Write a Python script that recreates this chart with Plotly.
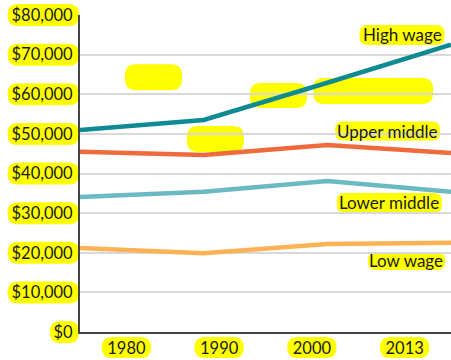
import plotly.graph_objects as go

# ---------------- data ----------------
years = ["1980", "1990", "2000", "2013"]
series_names = ["High wage", "Upper middle", "Lower middle", "Low wage"]
high_wage = [51000, 53500, 62900, 72500]
upper_middle = [45500, 44700, 47200, 45200]
lower_middle = [34100, 35400, 38100, 35400]
low_wage = [21200, 19900, 22200, 22500]
y_tick_values = [0, 10000, 20000, 30000, 40000, 50000, 60000, 70000, 80000]
y_tick_labels = ["$0", "$10,000", "$20,000", "$30,000", "$40,000",
                 "$50,000", "$60,000", "$70,000", "$80,000"]

# ---------------- style ----------------
colors = ["#0e8a92", "#ef6b3b", "#6bb9c2", "#fcb255"]
YELLOW = "#ffff00"
FONT = "Lato"
TICK_SIZE = 16.5
TEXT_COLOR = "#1a1a1a"
YMAX = 80000

fig = go.Figure()
n = len(years)
# invisible helper trace so the tick axis is populated
fig.add_trace(go.Scatter(x=list(range(n)), y=[None] * n, mode="lines",
                         xaxis="x", yaxis="y", showlegend=False,
                         hoverinfo="skip"))
for name, vals, col in zip(series_names,
                           [high_wage, upper_middle, lower_middle, low_wage],
                           colors):
    fig.add_trace(go.Scatter(x=years, y=vals, mode="lines", name=name,
                             xaxis="x2", yaxis="y",
                             line=dict(color=col, width=4.5),
                             hoverinfo="skip"))


def pill(cx, cy, w, h, r=None):
    if r is None:
        r = min(h / 2.0, 10)
    x0, x1 = cx - w / 2.0, cx + w / 2.0
    y0, y1 = cy - h / 2.0, cy + h / 2.0
    return (f"M{x0 + r},{y0} L{x1 - r},{y0} Q{x1},{y0} {x1},{y0 + r} "
            f"L{x1},{y1 - r} Q{x1},{y1} {x1 - r},{y1} L{x0 + r},{y1} "
            f"Q{x0},{y1} {x0},{y1 - r} L{x0},{y0 + r} Q{x0},{y0} {x0 + r},{y0} Z")


def highlight(ax, ay, cx, cy, w, h, r=None):
    return dict(type="path", xref="paper", yref="paper",
                xsizemode="pixel", ysizemode="pixel",
                xanchor=ax, yanchor=ay, path=pill(cx, cy, w, h, r),
                fillcolor=YELLOW, line=dict(width=0), layer="below")


def text_width(s, size=TICK_SIZE):
    w = 0.0
    for ch in s:
        w += 0.24 * size if ch in ",." else 0.58 * size
    return w


shapes = []
# y tick label highlights
for v, lab in zip(y_tick_values, y_tick_labels):
    w = text_width(lab) + 10
    shapes.append(highlight(0, v / YMAX, -1 - w / 2.0, 0, w, 22))
# x tick label highlights
for i, lab in enumerate(years):
    w = text_width(lab) + 11
    shapes.append(highlight((i + 0.5) / n, 0, 0, -15.5, w, 21))

# decorative highlight blobs inside the plot (paper x, paper y, width, height)
blobs = [(0.198, 0.804, 57, 26), (0.365, 0.609, 57, 26),
         (0.535, 0.746, 57, 25), (0.790, 0.760, 120, 26)]
for bx, by, bw, bh in blobs:
    shapes.append(highlight(bx, by, 0, 0, bw, bh, 11))

# series labels
label_pos = [(0.868, 0.937, 85, 20), (0.829, 0.634, 105, 19),
             (0.834, 0.407, 105, 20), (0.880, 0.224, 77, 18)]
annotations = []
for name, (lx, ly, lw, lh) in zip(series_names, label_pos):
    shapes.append(highlight(lx, ly, 0, 0, lw, lh, 8))
    annotations.append(dict(text=name, x=lx, y=ly, xref="paper", yref="paper",
                            showarrow=False, xanchor="center", yanchor="middle",
                            font=dict(family=FONT, size=17, color=TEXT_COLOR)))

fig.update_layout(
    width=451, height=360,
    margin=dict(l=80, r=0, t=15, b=28),
    paper_bgcolor="white", plot_bgcolor="white",
    showlegend=False,
    font=dict(family=FONT, size=TICK_SIZE, color=TEXT_COLOR),
    xaxis=dict(type="linear", range=[-0.5, n - 0.5],
               tickvals=list(range(n)), ticktext=years,
               showgrid=False, zeroline=False, ticks="",
               ticklabelstandoff=0,
               showline=True, linecolor="#444444", linewidth=2,
               tickfont=dict(family=FONT, size=TICK_SIZE, color=TEXT_COLOR)),
    xaxis2=dict(type="category", overlaying="x", anchor="y",
                range=[0, n - 1], visible=False),
    yaxis=dict(range=[0, YMAX], tickvals=y_tick_values, ticktext=y_tick_labels,
               showgrid=True, gridcolor="#d9d9d9", gridwidth=1.5,
               zeroline=False, ticks="", ticklabelstandoff=2,
               showline=True, linecolor="#444444", linewidth=2,
               tickfont=dict(family=FONT, size=TICK_SIZE, color=TEXT_COLOR)),
    shapes=shapes,
    annotations=annotations,
)

fig.write_html("out.html")
